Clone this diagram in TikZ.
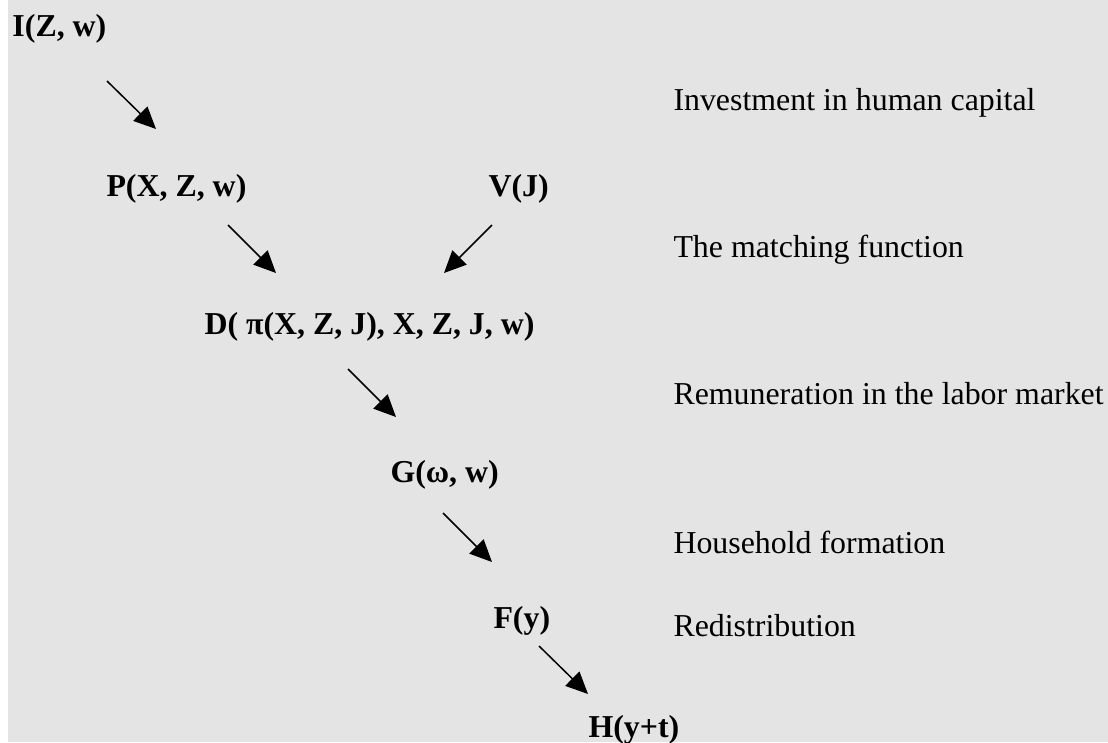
\documentclass[tikz,border=0pt]{standalone}
\usepackage{fontspec}
\setmainfont{Liberation Serif}
\usetikzlibrary{arrows.meta}
\definecolor{bggray}{HTML}{E4E4E4}
\tikzset{
  var/.style={anchor=base west, inner sep=0pt, font=\fontsize{12.75}{15}\selectfont\bfseries},
  lab/.style={anchor=base west, inner sep=0pt, font=\fontsize{12.75}{15}\selectfont},
  arr/.style={line width=0.6pt, -{Triangle[length=8.8pt,width=8pt]}}
}
\begin{document}
\begin{tikzpicture}[x=0.4pt,y=-0.4pt]
\useasboundingbox (0,0) rectangle (1108,742);
\fill[white] (0,0) rectangle (8,742);
\fill[bggray] (8,0) rectangle (1108,742);
% variables
\node[var] (I) at (12,36) {I(Z, w)};
\node[var] (P) at (106,196) {P(X, Z, w)};
\node[var] (V) at (488,196) {V(J)};
\node[var] (D) at (204,334) {D( π(X, Z, J), X, Z, J, w)};
\node[var] (G) at (390,482) {G(ω, w)};
\node[var] (F) at (493,628) {F(y)};
\node[var] (H) at (588,737) {H(y+t)};
% labels
\node[lab] (l1) at (673,110) {Investment in human capital};
\node[lab] (l2) at (673,257) {The matching function};
\node[lab] (l3) at (673,404) {Remuneration in the labor market};
\node[lab] (l4) at (673,553) {Household formation};
\node[lab] (l5) at (673,636) {Redistribution};
% arrow ends
\coordinate (a1s) at (107,81);  \coordinate (a1e) at (156,129);
\coordinate (a2s) at (228,225); \coordinate (a2e) at (276,273);
\coordinate (a3s) at (492,225); \coordinate (a3e) at (444,273);
\coordinate (a4s) at (348,369); \coordinate (a4e) at (396,417);
\coordinate (a5s) at (443,513); \coordinate (a5e) at (492,562);
\coordinate (a6s) at (539,646); \coordinate (a6e) at (588,694);
\draw[arr] (a1s) -- (a1e);
\draw[arr] (a2s) -- (a2e);
\draw[arr] (a3s) -- (a3e);
\draw[arr] (a4s) -- (a4e);
\draw[arr] (a5s) -- (a5e);
\draw[arr] (a6s) -- (a6e);
\end{tikzpicture}
\end{document}
